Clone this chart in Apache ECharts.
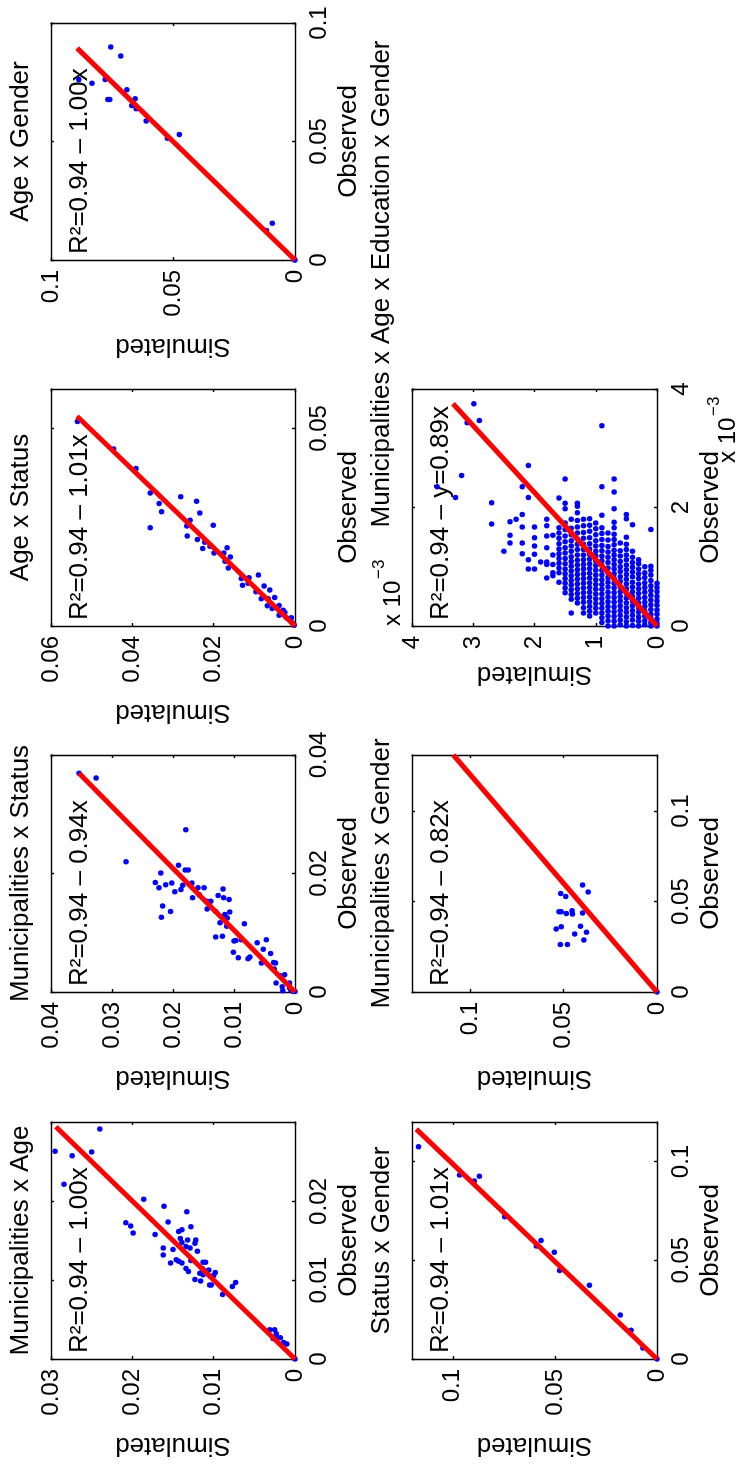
<!DOCTYPE html>
<html>
<head>
<meta charset="utf-8">
<script src="https://cdn.jsdelivr.net/npm/echarts@6/dist/echarts.min.js"></script>
<style>
  html, body { margin: 0; padding: 0; background: #fff; }
  #chart { width: 737px; height: 1467px; }
</style>
</head>
<body>
<div id="chart"></div>
<script>
// points are [simulated, observed]
const ageGenderPts = [
  [0.0755, 0.0899], [0.0714, 0.0861], [0.0886, 0.0762], [0.0832, 0.0746], [0.0778, 0.0762],
  [0.0689, 0.0718], [0.0767, 0.0677], [0.0759, 0.0677], [0.0655, 0.0680], [0.0669, 0.0652],
  [0.0651, 0.0638], [0.0610, 0.0586], [0.0523, 0.0514], [0.0474, 0.0530], [0.0093, 0.0155],
  [0.0117, 0.0124], [0.0003, 0.0001], [0, 0]
];
const ageGenderLine = [[0, 0], [0.0893, 0.0894]];

const ageStatusPts = [
  [0.0535, 0.0518], [0.0446, 0.0448], [0.0391, 0.0399], [0.0356, 0.0337], [0.0334, 0.0310],
  [0.0328, 0.0289], [0.0356, 0.0249], [0.0281, 0.0327], [0.0242, 0.0316], [0.0234, 0.0286],
  [0.0258, 0.0268], [0.0266, 0.0253], [0.0265, 0.0228], [0.0240, 0.0219], [0.0222, 0.0212],
  [0.0227, 0.0196], [0.0209, 0.0202], [0.0201, 0.0255], [0.0199, 0.0185], [0.0167, 0.0198],
  [0.0175, 0.0185], [0.0159, 0.0175], [0.0172, 0.0164], [0.0164, 0.0147], [0.0132, 0.0120],
  [0.0129, 0.0103], [0.0113, 0.0122], [0.0090, 0.0129], [0.0115, 0.0108], [0.0096, 0.0087],
  [0.0076, 0.0101], [0.0062, 0.0091], [0.0066, 0.0069], [0.0050, 0.0072], [0.0083, 0.0069],
  [0.0068, 0.0051], [0.0056, 0.0044], [0.0039, 0.0052], [0.0039, 0.0027], [0.0025, 0.0034],
  [0.0021, 0.0021], [0.0009, 0.0021], [0.0007, 0.0008], [0.0002, 0.0002], [0.0029, 0.0040]
];
const ageStatusLine = [[0, 0], [0.0536, 0.0531]];

const munStatusPts = [
  [0.0354, 0.0369], [0.0326, 0.0361], [0.0179, 0.0274], [0.0277, 0.0220], [0.0191, 0.0214],
  [0.0180, 0.0206], [0.0175, 0.0206], [0.0220, 0.0201], [0.0229, 0.0185], [0.0223, 0.0176],
  [0.0212, 0.0181], [0.0202, 0.0184], [0.0184, 0.0180], [0.0197, 0.0169], [0.0187, 0.0173],
  [0.0169, 0.0184], [0.0159, 0.0176], [0.0149, 0.0176], [0.0168, 0.0159], [0.0157, 0.0164],
  [0.0118, 0.0174], [0.0126, 0.0163], [0.0117, 0.0159], [0.0108, 0.0156], [0.0217, 0.0145],
  [0.0219, 0.0126], [0.0204, 0.0136], [0.0145, 0.0153], [0.0138, 0.0153], [0.0144, 0.0140],
  [0.0130, 0.0136], [0.0115, 0.0131], [0.0107, 0.0135], [0.0111, 0.0125], [0.0123, 0.0117],
  [0.0112, 0.0111], [0.0083, 0.0115], [0.0130, 0.0093], [0.0119, 0.0094], [0.0100, 0.0086],
  [0.0097, 0.0087], [0.0088, 0.0088], [0.0101, 0.0067], [0.0093, 0.0058], [0.0077, 0.0056],
  [0.0074, 0.0059], [0.0062, 0.0083], [0.0047, 0.0088], [0.0052, 0.0072], [0.0040, 0.0065],
  [0.0055, 0.0049], [0.0035, 0.0050], [0.0032, 0.0049], [0.0034, 0.0039], [0.0025, 0.0028],
  [0.0017, 0.0029], [0.0031, 0.0015], [0.0021, 0.0009], [0.0009, 0.0015], [0.0020, 0.0002],
  [0.0009, 0.0007], [0.0007, 0.0004], [0.0003, 0.0001], [0, 0.0001]
];
const munStatusLine = [[0, 0], [0.0354, 0.0369]];

const munAgePts = [
  [0.0240, 0.0292], [0.0295, 0.0264], [0.0274, 0.0258], [0.0250, 0.0263], [0.0284, 0.0222],
  [0.0186, 0.0203], [0.0161, 0.0194], [0.0133, 0.0187], [0.0208, 0.0173], [0.0202, 0.0169],
  [0.0199, 0.0160], [0.0156, 0.0174], [0.0143, 0.0162], [0.0139, 0.0164], [0.0128, 0.0168],
  [0.0172, 0.0158], [0.0141, 0.0153], [0.0139, 0.0148], [0.0132, 0.0151], [0.0122, 0.0151],
  [0.0123, 0.0147], [0.0162, 0.0141], [0.0150, 0.0139], [0.0134, 0.0143], [0.0129, 0.0141],
  [0.0120, 0.0137], [0.0162, 0.0132], [0.0146, 0.0126], [0.0153, 0.0122], [0.0143, 0.0124],
  [0.0139, 0.0122], [0.0128, 0.0125], [0.0113, 0.0123], [0.0110, 0.0123], [0.0134, 0.0115],
  [0.0131, 0.0111], [0.0114, 0.0115], [0.0111, 0.0112], [0.0117, 0.0109], [0.0106, 0.0113],
  [0.0098, 0.0110], [0.0113, 0.0107], [0.0104, 0.0105], [0.0123, 0.0101], [0.0116, 0.0099],
  [0.0100, 0.0106], [0.0105, 0.0094], [0.0103, 0.0094], [0.0073, 0.0097], [0.0077, 0.0092],
  [0.0089, 0.0082], [0.0031, 0.0037], [0.0025, 0.0037], [0.0023, 0.0032], [0.0018, 0.0027],
  [0.0027, 0.0026], [0.0014, 0.0021], [0.0010, 0.0019], [0.0023, 0.0028], [0, 0]
];
const munAgeLine = [[0, 0], [0.0294, 0.0295]];

const statusGenderPts = [
  [0.1168, 0.1075], [0.0967, 0.0932], [0.0895, 0.0901], [0.0870, 0.0925], [0.0746, 0.0720],
  [0.0591, 0.0572], [0.0568, 0.0600], [0.0503, 0.0541], [0.0477, 0.0448], [0.0331, 0.0374],
  [0.0180, 0.0223], [0.0127, 0.0145], [0.0069, 0.0056], [0, 0]
];
const statusGenderLine = [[0, 0], [0.1179, 0.1164]];

const munGenderPts = [
  [0.0398, 0.0592], [0.0368, 0.0553], [0.0515, 0.0544], [0.0488, 0.0528], [0.0524, 0.0443],
  [0.0512, 0.0443], [0.0485, 0.0434], [0.0454, 0.0449], [0.0452, 0.0431], [0.0398, 0.0436],
  [0.0539, 0.0348], [0.0512, 0.0361], [0.0409, 0.0363], [0.0440, 0.0321], [0.0377, 0.0330],
  [0.0517, 0.0262], [0.0479, 0.0262], [0.0391, 0.0288], [0, 0]
];
const munGenderLine = [[0, 0], [0.1089, 0.131]];

// Municipalities x Age x Education x Gender, in units of 1e-3
// each entry: [simulated, [observed values at that simulated level]]
const maegColumns = [
  [0.0, [0, 0.05, 0.12, 0.2, 0.27, 0.35, 0.42, 0.5, 0.58, 0.65, 0.72]],
  [0.1, [0, 0.06, 0.13, 0.2, 0.28, 0.36, 0.44, 0.52, 0.6, 0.68, 0.77, 0.86, 0.94, 1.01, 1.63]],
  [0.2, [0.02, 0.09, 0.17, 0.25, 0.33, 0.4, 0.48, 0.57, 0.65, 0.73, 0.82, 0.9, 1.0]],
  [0.3, [0, 0.08, 0.15, 0.23, 0.31, 0.39, 0.47, 0.55, 0.63, 0.71, 0.8, 0.88, 0.96, 1.05, 1.12]],
  [0.4, [0.01, 0.1, 0.18, 0.26, 0.34, 0.42, 0.5, 0.58, 0.66, 0.74, 0.83, 0.91, 0.99, 1.07, 1.16, 1.26, 1.71]],
  [0.5, [0, 0.07, 0.15, 0.23, 0.31, 0.39, 0.47, 0.55, 0.63, 0.71, 0.79, 0.87, 0.95, 1.03, 1.12, 1.2, 1.29, 1.38, 1.5, 1.81, 1.88]],
  [0.6, [0.02, 0.1, 0.18, 0.26, 0.34, 0.42, 0.5, 0.58, 0.66, 0.75, 0.83, 0.92, 1.0, 1.09, 1.18, 1.27, 1.4]],
  [0.7, [0, 0.08, 0.16, 0.24, 0.32, 0.4, 0.48, 0.56, 0.64, 0.72, 0.8, 0.88, 0.96, 1.04, 1.12, 1.2, 1.28, 1.37, 1.46, 1.55, 1.66, 1.75, 1.98, 2.26, 2.48]],
  [0.8, [0, 0.09, 0.17, 0.25, 0.33, 0.41, 0.49, 0.57, 0.66, 0.74, 0.82, 0.9, 0.98, 1.07, 1.16, 1.25, 1.34, 1.45, 1.57]],
  [0.9, [0.06, 0.14, 0.22, 0.3, 0.38, 0.46, 0.54, 0.62, 0.7, 0.78, 0.86, 0.94, 1.02, 1.1, 1.18, 1.27, 1.36, 1.46, 1.56, 1.66, 1.87, 2.35, 3.38]],
  [1.0, [0.22, 0.3, 0.38, 0.46, 0.54, 0.62, 0.7, 0.78, 0.86, 0.94, 1.02, 1.1, 1.18, 1.26, 1.35, 1.44, 1.54, 1.64, 1.74]],
  [1.1, [0.17, 0.25, 0.33, 0.41, 0.49, 0.57, 0.65, 0.73, 0.81, 0.89, 0.97, 1.05, 1.13, 1.21, 1.3, 1.39, 1.49, 1.6, 1.7, 1.81]],
  [1.2, [0.22, 0.31, 0.4, 0.48, 0.56, 0.64, 0.72, 0.8, 0.88, 0.96, 1.04, 1.12, 1.2, 1.29, 1.38, 1.48, 1.58, 1.69, 1.8]],
  [1.3, [0.39, 0.47, 0.55, 0.63, 0.71, 0.79, 0.87, 0.95, 1.03, 1.11, 1.2, 1.29, 1.38, 1.47, 1.57, 1.67, 1.78, 1.91, 2.02, 2.07]],
  [1.4, [0.22, 0.45, 0.53, 0.61, 0.69, 0.77, 0.85, 0.93, 1.01, 1.09, 1.17, 1.26, 1.35, 1.44, 1.54, 1.65, 1.8]],
  [1.5, [0.56, 0.64, 0.72, 0.8, 0.88, 0.96, 1.05, 1.14, 1.23, 1.32, 1.42, 1.52, 1.63, 1.74, 1.98, 2.07, 2.48]],
  [1.6, [0.74, 0.9, 0.98, 1.06, 1.14, 1.22, 1.3, 1.39, 1.48, 1.57, 1.66, 2.16]],
  [1.7, [0.85, 0.9, 1.04, 1.2, 1.53]],
  [1.8, [0.81, 1.04, 1.08, 1.32, 1.52, 1.69, 1.8]],
  [1.9, [1.08]],
  [2.0, [0.96, 1.21, 1.35, 1.49, 1.67]],
  [2.1, [0.96, 1.12, 2.17, 2.71]],
  [2.2, [1.22, 1.4, 1.67, 1.88, 2.35]],
  [2.3, [1.8]],
  [2.4, [1.4, 1.53, 1.76]],
  [2.5, [1.26]],
  [2.7, [1.72, 2.08]]
];
const maegOutliers = [
  [3.19, 2.54], [3.59, 2.35], [3.29, 2.17], [2.99, 3.75], [3.10, 3.43], [2.90, 3.47]
];
const maegLine = [[0, 0], [3.33, 3.75]];

const maegPts = [];
maegColumns.forEach(([s, obs]) => obs.forEach(o => maegPts.push([s, o])));
maegOutliers.forEach(p => maegPts.push(p));

const FONT = '"Liberation Sans", Arial, Helvetica, sans-serif';
const COL_L = 51, COL_R = 412;
const ROWS = [23, 389, 755, 1122];
const BOX_H = 237;

const panels = [
  { title: 'Age x Gender', fit: 'R²=0.94 – 1.00x', left: COL_L, width: 244, top: ROWS[0],
    pts: ageGenderPts, line: ageGenderLine, simMax: 0.1, obsMax: 0.1,
    simTicks: [0, 0.05, 0.1], obsTicks: [0, 0.05, 0.1], simGap: 73 },
  { title: 'Age x Status', fit: 'R²=0.94 – 1.01x', left: COL_L, width: 244, top: ROWS[1],
    pts: ageStatusPts, line: ageStatusLine, simMax: 0.06, obsMax: 0.06,
    simTicks: [0, 0.02, 0.04, 0.06], obsTicks: [0, 0.05], simGap: 73 },
  { title: 'Municipalities x Status', fit: 'R²=0.94 – 0.94x', left: COL_L, width: 244, top: ROWS[2],
    pts: munStatusPts, line: munStatusLine, simMax: 0.04, obsMax: 0.04,
    simTicks: [0, 0.01, 0.02, 0.03, 0.04], obsTicks: [0, 0.02, 0.04], simGap: 73 },
  { title: 'Municipalities x Age', fit: 'R²=0.94 – 1.00x', left: COL_L, width: 244, top: ROWS[3],
    pts: munAgePts, line: munAgeLine, simMax: 0.03, obsMax: 0.0301,
    simTicks: [0, 0.01, 0.02, 0.03], obsTicks: [0, 0.01, 0.02], simGap: 73 },
  { title: 'Municipalities x Age x Education x Gender', titleY: 284, fit: 'R²=0.94 – y=0.89x',
    left: COL_R, width: 245, top: ROWS[1],
    pts: maegPts, line: maegLine, simMax: 4, obsMax: 4,
    simTicks: [0, 1, 2, 3, 4], obsTicks: [0, 2, 4], simGap: 35, exponent: true },
  { title: 'Municipalities x Gender', fit: 'R²=0.94 – 0.82x', left: COL_R, width: 245, top: ROWS[2],
    pts: munGenderPts, line: munGenderLine, simMax: 0.131, obsMax: 0.131,
    simTicks: [0, 0.05, 0.1], obsTicks: [0, 0.05, 0.1], simGap: 73 },
  { title: 'Status x Gender', fit: 'R²=0.94 – 1.01x', left: COL_R, width: 245, top: ROWS[3],
    pts: statusGenderPts, line: statusGenderLine, simMax: 0.12, obsMax: 0.12,
    simTicks: [0, 0.05, 0.1], obsTicks: [0, 0.05, 0.1], simGap: 73 }
];

const fmt = v => String(+(+v).toFixed(6));
const lineStyle = { color: '#000', width: 1.4 };

function simAxis(p, i, mirror) {
  return {
    type: 'value', gridIndex: i, position: mirror ? 'top' : 'bottom', inverse: true,
    min: 0, max: p.simMax,
    axisLine: { show: true, onZero: false, lineStyle },
    axisTick: { show: true, inside: true, length: 3, customValues: p.simTicks, lineStyle },
    axisLabel: {
      show: !mirror, rotate: 90, margin: 10, customValues: p.simTicks, formatter: fmt,
      fontSize: 24, color: '#000', fontFamily: FONT, showMinLabel: true, showMaxLabel: true
    },
    splitLine: { show: false },
    name: mirror ? '' : 'Simulated', nameLocation: 'middle', nameGap: p.simGap, nameRotate: 180,
    nameTextStyle: { fontSize: 26, color: '#000', fontFamily: FONT }
  };
}

function obsAxis(p, i, mirror) {
  return {
    type: 'value', gridIndex: i, position: mirror ? 'left' : 'right',
    min: 0, max: p.obsMax,
    axisLine: { show: true, onZero: false, lineStyle },
    axisTick: { show: true, inside: true, length: 3, customValues: p.obsTicks, lineStyle },
    axisLabel: {
      show: !mirror, rotate: 90, margin: 12, customValues: p.obsTicks, formatter: fmt,
      fontSize: 24, color: '#000', fontFamily: FONT, showMinLabel: true, showMaxLabel: true
    },
    splitLine: { show: false },
    name: mirror ? '' : 'Observed', nameLocation: 'middle', nameGap: 41, nameRotate: 90,
    nameTextStyle: { fontSize: 26, color: '#000', fontFamily: FONT }
  };
}

function rotText(x, y, text, size, align) {
  return {
    type: 'text', x, y, rotation: Math.PI / 2, silent: true,
    style: { text, fontSize: size, fontFamily: FONT, fill: '#000', align, verticalAlign: 'middle' }
  };
}

const grids = [], xAxes = [], yAxes = [], series = [], graphics = [];
panels.forEach((p, i) => {
  grids.push({ left: p.left, top: p.top, width: p.width, height: BOX_H, show: false });
  xAxes.push(simAxis(p, i, false), simAxis(p, i, true));
  yAxes.push(obsAxis(p, i, false), obsAxis(p, i, true));
  series.push({
    type: 'scatter', xAxisIndex: 2 * i, yAxisIndex: 2 * i, data: p.pts,
    symbol: 'circle', symbolSize: 5.5, itemStyle: { color: '#0000ff', opacity: 1 }, z: 2, silent: true
  });
  series.push({
    type: 'line', xAxisIndex: 2 * i, yAxisIndex: 2 * i, data: p.line,
    symbol: 'none', lineStyle: { color: '#ff0000', width: 5 }, z: 3, clip: true, silent: true
  });
  const titleX = p.left === COL_L ? 21 : 382;
  graphics.push(rotText(titleX, p.titleY || (p.top + BOX_H / 2), p.title, 26, 'center'));
  graphics.push(rotText(p.left + 29, p.top + BOX_H - 6, p.fit, 26, 'left'));
  if (p.exponent) {
    const bottom = p.top + BOX_H;
    graphics.push(rotText(p.left - 19, bottom, 'x 10', 24, 'left'));
    graphics.push(rotText(p.left - 33, bottom - 47, '−3', 17, 'left'));
    graphics.push(rotText(p.left + p.width + 71, 463, 'x 10', 24, 'left'));
    graphics.push(rotText(p.left + p.width + 57, 416, '−3', 17, 'left'));
  }
});

const chart = echarts.init(document.getElementById('chart'));
chart.setOption({
  animation: false,
  backgroundColor: '#fff',
  textStyle: { fontFamily: FONT },
  grid: grids,
  xAxis: xAxes,
  yAxis: yAxes,
  series,
  graphic: graphics
});
</script>
</body>
</html>
